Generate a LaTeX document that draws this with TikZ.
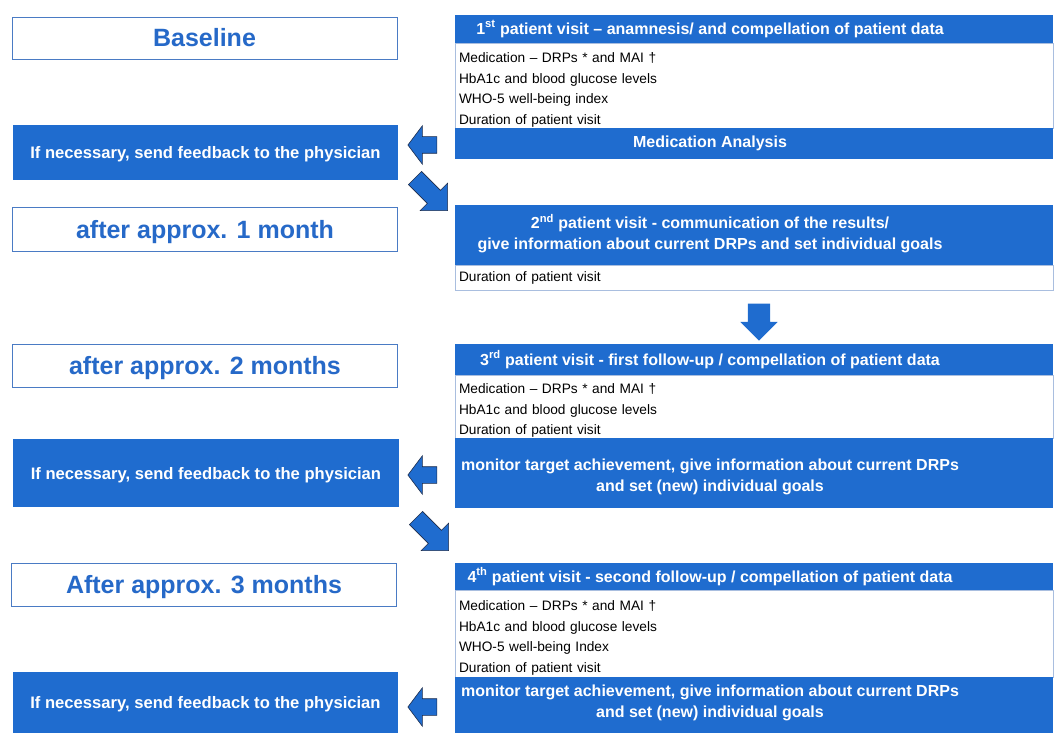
\documentclass[tikz,border=0pt]{standalone}
\usepackage{fontspec}
\setmainfont{Liberation Sans}
\usetikzlibrary{shapes.arrows}

\definecolor{barblue}{HTML}{1F6CCF}
\definecolor{labelblue}{HTML}{2669C8}
\definecolor{frameblue}{HTML}{4A7BC4}
\definecolor{dataframe}{HTML}{A9BEDF}
\definecolor{arrowline}{HTML}{1C2B4A}

\tikzset{
	timebox/.style={draw=frameblue, line width=0.8bp, fill=white, minimum width=385bp, inner sep=0pt,
		text=labelblue, text height=18bp, text depth=0pt, font=\fontsize{25bp}{28bp}\selectfont\bfseries},
	feedbox/.style={fill=barblue, minimum width=385bp, inner sep=0pt,
		text=white, text height=12bp, text depth=0pt, font=\fontsize{16.6bp}{20bp}\selectfont\bfseries},
	bar/.style={fill=barblue, minimum width=598bp, inner sep=0pt},
	bartext/.style={text=white, align=center, inner sep=0pt, font=\fontsize{16bp}{21bp}\selectfont\bfseries},
	databox/.style={draw=dataframe, line width=0.6bp, fill=white, minimum width=598bp, text width=590bp,
		inner xsep=4bp, inner ysep=0pt, align=left, font=\fontsize{13.7bp}{20.5bp}\selectfont},
	leftarrow/.style={single arrow, draw=arrowline, line width=0.6bp, fill=barblue, inner xsep=0pt, inner ysep=8bp,
		minimum height=29bp, single arrow head extend=11bp,
		single arrow tip angle=106, shape border rotate=180},
	slantarrow/.style={single arrow, draw=arrowline, line width=0.6bp, fill=barblue, inner xsep=0pt, inner ysep=9bp,
		minimum height=46bp, single arrow head extend=10bp,
		single arrow tip angle=90, rotate=-45},
	downarrow/.style={single arrow, draw=none, fill=barblue, inner xsep=0pt, inner ysep=11bp,
		minimum height=37bp, single arrow head extend=7.5bp,
		single arrow tip angle=90, rotate=-90}
}

\begin{document}
\begin{tikzpicture}[x=1bp, y=-1bp]
	\useasboundingbox (0,0) rectangle (1054,733);
	
	%%%%% LEFT COLUMN %%%%%
	\node[timebox, minimum height=42bp] (base) at (204.5,38) {Baseline};
	\node[feedbox, minimum height=55bp] (fb1) at (205.5,152.5) {If necessary, send feedback to the physician};
	\node[timebox, minimum height=44bp] (mon1) at (205,229) {after approx. 1 month};
	\node[timebox, minimum height=43bp] (mon2) at (205,365.5) {after approx. 2 months};
	\node[feedbox, minimum height=68bp] (fb2) at (206,473) {If necessary, send feedback to the physician};
	\node[timebox, minimum height=43bp] (mon3) at (204,584.5) {After approx. 3 months};
	\node[feedbox, minimum height=61bp] (fb3) at (205.5,702.5) {If necessary, send feedback to the physician};
	
	%%%%% 1st VISIT %%%%%
	\node[bar, minimum height=28bp] (v1head) at (754,29) {};
	\node[bartext] (v1title) at (710,29) {1\textsuperscript{st} patient visit -- anamnesis/ and compellation of patient data};
	\node[databox, minimum height=85bp, text height=19bp] (v1data) at (754,85.5) {Medication -- DRPs * and MAI †\\HbA1c and blood glucose levels\\WHO-5 well-being index\\Duration of patient visit};
	\node[bar, minimum height=31bp] (v1ana) at (754,143.5) {};
	\node[bartext] (v1anatext) at (710,143.5) {Medication Analysis};
	
	%%%%% 2nd VISIT %%%%%
	\node[bar, minimum height=60bp] (v2head) at (754,235) {};
	\node[bartext] (v2title) at (710,234) {2\textsuperscript{nd} patient visit - communication of the results/\\give information about current DRPs and set individual goals};
	\node[databox, minimum height=25bp] (v2data) at (754,277.5) {Duration of patient visit};
	
	%%%%% 3rd VISIT %%%%%
	\node[bar, minimum height=31bp] (v3head) at (754,359.5) {};
	\node[bartext] (v3title) at (710,359.5) {3\textsuperscript{rd} patient visit - first follow-up / compellation of patient data};
	\node[databox, minimum height=63bp, text height=18bp] (v3data) at (754,406.5) {Medication -- DRPs * and MAI †\\HbA1c and blood glucose levels\\Duration of patient visit};
	\node[bar, minimum height=70bp] (v3goal) at (754,473) {};
	\node[bartext] (v3goaltext) at (710,477) {monitor target achievement, give information about current DRPs\\and set (new) individual goals};
	
	%%%%% 4th VISIT %%%%%
	\node[bar, minimum height=27bp] (v4head) at (754,576.5) {};
	\node[bartext] (v4title) at (710,576.5) {4\textsuperscript{th} patient visit - second follow-up / compellation of patient data};
	\node[databox, minimum height=87bp, text height=19bp] (v4data) at (754,633.5) {Medication -- DRPs * and MAI †\\HbA1c and blood glucose levels\\WHO-5 well-being Index\\Duration of patient visit};
	\node[bar, minimum height=56bp] (v4goal) at (754,705) {};
	\node[bartext] (v4goaltext) at (710,703) {monitor target achievement, give information about current DRPs\\and set (new) individual goals};
	
	%%%%% ARROWS %%%%%
	\node[leftarrow] (back1) at (425.5,145) {};
	\node[slantarrow] (next1) at (428,191) {};
	\node[downarrow] (down2) at (759,316.5) {};
	\node[leftarrow] (back2) at (425.5,475) {};
	\node[slantarrow] (next2) at (429,531) {};
	\node[leftarrow] (back3) at (425.5,707) {};
\end{tikzpicture}
\end{document}
